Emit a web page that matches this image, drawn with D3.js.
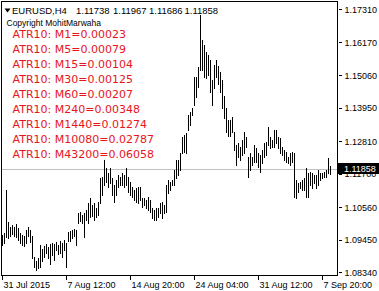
<!DOCTYPE html>
<html><head><meta charset="utf-8">
<script src="https://cdn.jsdelivr.net/npm/d3@7"></script>
<style>
html,body{margin:0;padding:0;background:#fff;}
svg{display:block;}
</style></head>
<body>
<svg id="c" width="379" height="291"></svg>
<script>
// ---- data ----
const symbol = "EURUSD,H4";
const lastOHLC = ["1.11738", "1.11967", "1.11686", "1.11858"];
const copyright = "Copyright MohitMarwaha";
const atrLabels = ["M1", "M5", "M15", "M30", "M60", "M240", "M1440", "M10080", "M43200"];
const atrValues = ["0.00023", "0.00079", "0.00104", "0.00125", "0.00207", "0.00348", "0.01274", "0.02787", "0.06058"];
const lastPrice = 1.11858;
const priceTicks = [1.17310, 1.16170, 1.15060, 1.13950, 1.12810, 1.11700, 1.10560, 1.09450, 1.08340];
const timeTickIdx = [0, 32, 64, 96, 128, 160];
const timeTickLabels = ["31 Jul 2015", "7 Aug 12:00", "14 Aug 20:00", "24 Aug 04:00", "31 Aug 12:00", "7 Sep 20:00"];
const highs = [
1.0961,1.0968,1.1114,1.1005,1.0988,1.0995,1.0988,1.0999,1.0985,1.0968,
1.0961,1.0958,1.0978,1.0988,1.0978,1.0958,1.0886,1.0873,1.0883,1.0927,
1.0913,1.0924,1.0931,1.0920,1.0931,1.0934,1.0931,1.0937,1.0927,1.0941,
1.0934,1.0944,1.0934,1.0971,1.0975,1.0978,1.0981,1.0978,1.1036,1.1039,
1.1029,1.1036,1.1046,1.1070,1.1087,1.1063,1.1070,1.1053,1.1073,1.1155,
1.1159,1.1217,1.1189,1.1172,1.1189,1.1155,1.1131,1.1148,1.1165,1.1159,
1.1172,1.1165,1.1189,1.1159,1.1142,1.1125,1.1114,1.1121,1.1125,1.1125,
1.1087,1.1087,1.1080,1.1091,1.1080,1.1053,1.1046,1.1053,1.1053,1.1070,
1.1073,1.1063,1.1131,1.1148,1.1142,1.1148,1.1183,1.1217,1.1217,1.1241,
1.1295,1.1302,1.1309,1.1370,1.1380,1.1394,1.1499,1.1499,1.1533,1.1711,
1.1625,1.1608,1.1585,1.1574,1.1557,1.1489,1.1540,1.1557,1.1537,1.1516,
1.1489,1.1435,1.1394,1.1353,1.1353,1.1363,1.1312,1.1268,1.1275,1.1261,
1.1285,1.1312,1.1295,1.1227,1.1241,1.1227,1.1268,1.1257,1.1241,1.1234,
1.1251,1.1275,1.1278,1.1329,1.1295,1.1285,1.1319,1.1319,1.1295,1.1292,
1.1261,1.1251,1.1244,1.1227,1.1241,1.1244,1.1241,1.1148,1.1138,1.1142,
1.1148,1.1155,1.1189,1.1172,1.1176,1.1172,1.1165,1.1165,1.1183,1.1172,
1.1172,1.1176,1.1183,1.1224,1.11967];
const lows = [
1.0927,1.0934,1.0954,1.0951,1.0958,1.0965,1.0958,1.0954,1.0944,1.0934,
1.0927,1.0924,1.0934,1.0958,1.0937,1.0883,1.0852,1.0842,1.0849,1.0852,
1.0873,1.0886,1.0900,1.0883,1.0862,1.0893,1.0876,1.0910,1.0896,1.0900,
1.0886,1.0910,1.0852,1.0941,1.0941,1.0951,1.0958,1.0927,1.1002,1.1009,
1.1002,1.0954,1.1012,1.1002,1.1022,1.1026,1.1012,1.1022,1.1029,1.1070,
1.1097,1.1131,1.1142,1.1125,1.1138,1.1097,1.1073,1.1097,1.1125,1.1131,
1.1131,1.1125,1.1131,1.1108,1.1097,1.1091,1.1080,1.1073,1.1070,1.1080,
1.1056,1.1063,1.1053,1.1046,1.1039,1.1019,1.1012,1.1012,1.1022,1.1036,
1.1019,1.1036,1.1039,1.1104,1.1114,1.1131,1.1131,1.1155,1.1165,1.1183,
1.1241,1.1244,1.1241,1.1319,1.1336,1.1370,1.1404,1.1431,1.1465,1.1523,
1.1523,1.1499,1.1496,1.1506,1.1448,1.1404,1.1462,1.1499,1.1475,1.1448,
1.1394,1.1360,1.1312,1.1298,1.1298,1.1312,1.1251,1.1200,1.1227,1.1217,
1.1234,1.1241,1.1261,1.1159,1.1183,1.1200,1.1210,1.1210,1.1193,1.1176,
1.1206,1.1227,1.1234,1.1268,1.1257,1.1261,1.1261,1.1275,1.1257,1.1241,
1.1234,1.1217,1.1210,1.1206,1.1200,1.1210,1.1091,1.1087,1.1108,1.1121,
1.1114,1.1114,1.1091,1.1091,1.1131,1.1121,1.1138,1.1121,1.1131,1.1148,
1.1155,1.1159,1.1159,1.1172,1.11686];

// ---- layout ----
const svg = d3.select("#c");
const FONT = "'Liberation Sans', Arial, sans-serif";
const plotLeft = 1.5, plotRight = 337.5, plotTop = 1.5, plotBottom = 275.5;

const y = d3.scaleLinear().domain([1.08340, 1.17310]).range([272.3, 9]);
const x = d3.scaleLinear().domain([0, 164]).range([2.5, 330.5]);

// price line
svg.append("line")
  .attr("x1", plotLeft).attr("x2", plotRight)
  .attr("y1", Math.round(y(lastPrice)) + 0.5).attr("y2", Math.round(y(lastPrice)) + 0.5)
  .attr("stroke", "#c0c0c0").attr("stroke-width", 1);

// bars
const bars = highs.map((h, i) => ({i, h, l: lows[i]}));
svg.append("g").attr("shape-rendering", "crispEdges")
  .selectAll("line").data(bars).join("line")
  .attr("x1", d => x(d.i)).attr("x2", d => x(d.i))
  .attr("y1", d => Math.round(y(d.h))).attr("y2", d => Math.round(y(d.l)) + 1)
  .attr("stroke", "#000").attr("stroke-width", 1);

// frame
svg.append("path")
  .attr("d", `M${plotLeft},${plotBottom}V${plotTop}H${plotRight}V${plotBottom}H${plotLeft}`)
  .attr("fill", "none").attr("stroke", "#000").attr("stroke-width", 1)
  .attr("shape-rendering", "crispEdges");

// right axis
const yAxis = d3.axisRight(y).tickValues(priceTicks).tickSize(3).tickPadding(3)
  .tickFormat(d3.format(".5f"));
const gy = svg.append("g").attr("transform", `translate(339,0)`).call(yAxis);
gy.select(".domain").remove();
gy.selectAll(".tick line").attr("stroke", "#000").attr("shape-rendering", "crispEdges");
gy.selectAll(".tick text").attr("font-family", FONT).attr("font-size", 9).attr("fill", "#000")
  .attr("x", 5.5).attr("dy", "0.36em");

// bottom axis
const xAxis = d3.axisBottom(x).tickValues(timeTickIdx).tickSize(4)
  .tickFormat((d, i) => timeTickLabels[i]);
const gx = svg.append("g").attr("transform", `translate(-0.5,${plotBottom})`).call(xAxis);
gx.select(".domain").remove();
gx.selectAll(".tick line").attr("stroke", "#000").attr("shape-rendering", "crispEdges");
gx.selectAll(".tick text").attr("font-family", FONT).attr("font-size", 9).attr("fill", "#000")
  .attr("text-anchor", "start").attr("x", 1).attr("y", 12.5).attr("dy", 0);

// current price label
const py = y(lastPrice);
svg.append("rect").attr("x", 338).attr("y", Math.round(py) - 6).attr("width", 41).attr("height", 11)
  .attr("fill", "#000");
svg.append("text").attr("x", 344).attr("y", py).attr("dy", "0.36em")
  .attr("font-family", FONT).attr("font-size", 9).attr("fill", "#fff")
  .text(d3.format(".5f")(lastPrice));

// header
svg.append("path").attr("d", "M4.5,8.5H10.5L7.5,12.5Z").attr("fill", "#000");
const hdr = svg.append("text").attr("y", 13.5).attr("font-family", FONT).attr("font-size", 9.5).attr("fill", "#000");
hdr.append("tspan").attr("x", 12).text(symbol);
const hx = [76, 113, 149, 184.5];
lastOHLC.forEach((v, i) => hdr.append("tspan").attr("x", hx[i]).text(v));

svg.append("text").attr("x", 6.5).attr("y", 25.5)
  .attr("font-family", FONT).attr("font-size", 8.5).attr("fill", "#000").text(copyright);

// ATR lines
svg.append("g").selectAll("text").data(atrLabels).join("text")
  .attr("x", 12.5).attr("y", (d, i) => 37.5 + i * 15)
  .attr("font-family", "'DejaVu Sans', Verdana, sans-serif").attr("font-size", 11)
  .attr("fill", "#e8141c")
  .text((d, i) => `ATR10: ${d}=${atrValues[i]}`);
</script>
</body></html>
